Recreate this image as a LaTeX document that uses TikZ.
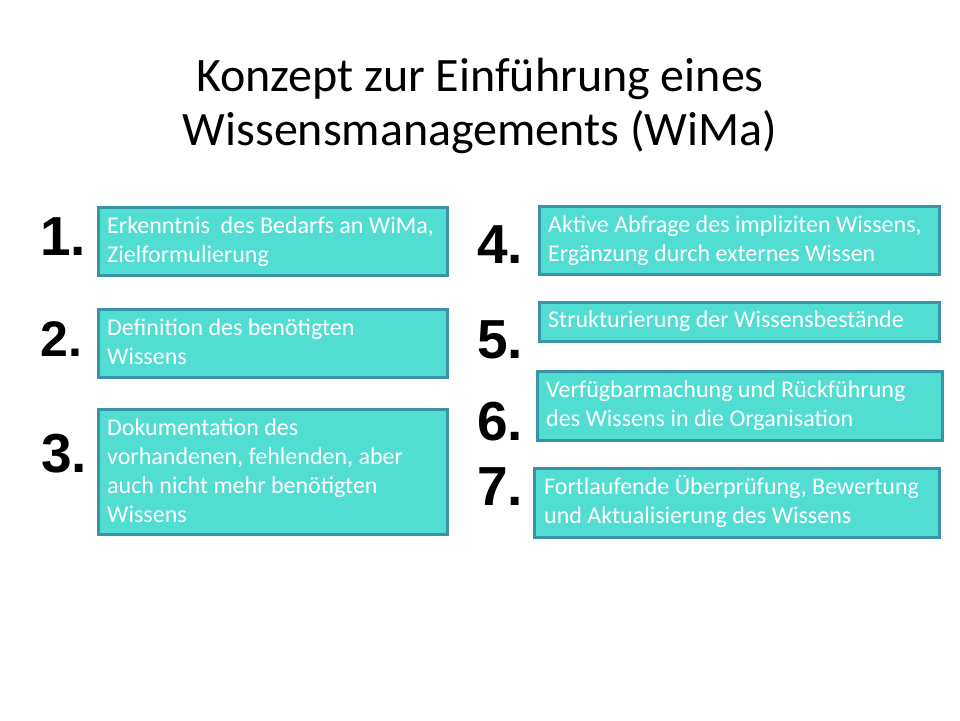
\documentclass[tikz,border=0pt]{standalone}
\usepackage{fontspec}
\setmainfont{Carlito}
\newfontfamily\numfont{Liberation Sans}
\usetikzlibrary{calc}
\definecolor{boxfill}{HTML}{52DDD3}
\definecolor{boxline}{HTML}{3A94A8}
\tikzset{
  stepbox/.style={draw=boxline, line width=2.5pt, fill=boxfill, rectangle, inner sep=0pt, anchor=north west},
  boxlabel/.style={anchor=base west, inner sep=0pt, text=white, font=\fontsize{24}{29}\selectfont},
  numlabel/.style={anchor=base west, inner sep=0pt, font=\numfont\bfseries\fontsize{55}{55}\selectfont},
  titletext/.style={align=center, inner sep=0pt, font=\fontsize{48}{54}\selectfont}
}
\newcommand{\boxlines}[1]{\vtop{\baselineskip=29pt #1}}
\begin{document}
\begin{tikzpicture}[x=1pt,y=-1pt]
\useasboundingbox[fill=white] (0,0) rectangle (960,720);
% title
\node[titletext, anchor=base] (title) at (480,145) {Konzept zur Einführung eines\\Wissensmanagements (WiMa)};
% boxes left
\node[stepbox, minimum width=349pt, minimum height=68pt] (b1) at (97,206) {};
\node[stepbox, minimum width=349pt, minimum height=68pt] (b2) at (97,308) {};
\node[stepbox, minimum width=349pt, minimum height=125pt] (b3) at (97,408) {};
% boxes right
\node[stepbox, minimum width=400pt, minimum height=68pt] (b4) at (538,205) {};
\node[stepbox, minimum width=400pt, minimum height=39pt] (b5) at (538,301) {};
\node[stepbox, minimum width=405pt, minimum height=69pt] (b6) at (536,370) {};
\node[stepbox, minimum width=405pt, minimum height=69pt] (b7) at (533,467) {};
% box texts
\node[boxlabel] (t1) at ($(b1.north west)+(10,27)$) {\boxlines{\hbox{Erkenntnis\ \ des Bedarfs an WiMa,}\hbox{Zielformulierung}}};
\node[boxlabel] (t2) at ($(b2.north west)+(10,27)$) {\boxlines{\hbox{Definition des benötigten}\hbox{Wissens}}};
\node[boxlabel] (t3) at ($(b3.north west)+(10,27)$) {\boxlines{\hbox{Dokumentation des}\hbox{vorhandenen, fehlenden, aber}\hbox{auch nicht mehr benötigten}\hbox{Wissens}}};
\node[boxlabel] (t4) at ($(b4.north west)+(10,27)$) {\boxlines{\hbox{Aktive Abfrage des impliziten Wissens,}\hbox{Ergänzung durch externes Wissen}}};
\node[boxlabel] (t5) at ($(b5.north west)+(10,26)$) {\boxlines{\hbox{Strukturierung der Wissensbestände}}};
\node[boxlabel] (t6) at ($(b6.north west)+(10,27)$) {\boxlines{\hbox{Verfügbarmachung und Rückführung}\hbox{des Wissens in die Organisation}}};
\node[boxlabel] (t7) at ($(b7.north west)+(11,27)$) {\boxlines{\hbox{Fortlaufende Überprüfung, Bewertung}\hbox{und Aktualisierung des Wissens}}};
% numbers
\node[numlabel] (n1) at (40,255) {1.};
\node[numlabel, font=\numfont\bfseries\fontsize{50}{50}\selectfont] (n2) at (40,356) {2.};
\node[numlabel] (n3) at (41,472) {3.};
\node[numlabel] (n4) at (477,263) {4.};
\node[numlabel] (n5) at (477,358) {5.};
\node[numlabel] (n6) at (477,440) {6.};
\node[numlabel] (n7) at (477,505) {7.};
\end{tikzpicture}
\end{document}
